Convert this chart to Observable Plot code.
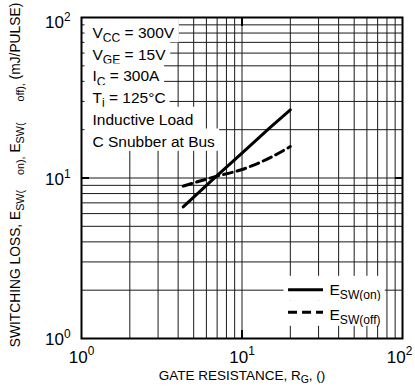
<!DOCTYPE html>
<html><head><meta charset="utf-8">
<script src="https://cdn.jsdelivr.net/npm/d3@7"></script>
<script src="https://cdn.jsdelivr.net/npm/@observablehq/plot@0.6"></script>
<style>
body{margin:0;background:#fff;}
svg text{white-space:pre;}
</style></head><body><div id="chart"></div>
<script>
// ---- data ----
const rg      = [4.3, 6.8, 10, 15, 20];          // gate resistance (ohm)
const eswOn   = [6.6, 10.1, 14.3, 20.7, 26.6];   // mJ/pulse
const eswOff  = [8.9, 10.2, 11.3, 13.4, 15.7];   // mJ/pulse

const gridValues = [2,3,4,5,6,7,8,9,10,20,30,40,50,60,70,80,90];
const tickValues = [1, 10, 100];
const tickLabels = ["10^{0}", "10^{1}", "10^{2}"];
const majorTick = [10];

const conditions = ["V_{CC} = 300V", "V_{GE} = 15V", "I_{C} = 300A", "T_{j} = 125°C", "Inductive Load", "C Snubber at Bus"];
const seriesKeys = ["on", "off"];
const seriesLabels = ["E_{SW(on)}", "E_{SW(off)}"];
const seriesDash = [null, "9,5"];
// legend swatch placement (data units)
const legendY = [2.01, 1.458];
const legendX1 = 19.5, legendX2 = 32.2;

const xTitle = "GATE RESISTANCE, R_{G}, ()";
const yTitle = "SWITCHING LOSS, E_{SW(     on),} E_{SW(       off),} (mJ/PULSE)";

const onData = rg.map((x, i) => ({x, y: eswOn[i]}));
const offData = rg.map((x, i) => ({x, y: eswOff[i]}));
const legend = seriesKeys.map((k, i) => ({k, label: seriesLabels[i], dash: seriesDash[i], y: legendY[i]}));
const fmt = d => tickLabels[tickValues.indexOf(d)];
const lowTicks = tickValues.slice(0, 2), topTick = tickValues.slice(2);

const marks = [
  Plot.ruleX(gridValues, {stroke: "#1a1a1a", strokeWidth: 1}),
  Plot.ruleY(gridValues, {stroke: "#1a1a1a", strokeWidth: 1}),
  ...conditions.map((t, i) => Plot.text([t], {frameAnchor: "top-left", textAnchor: "start", lineAnchor: "bottom", dx: 11, dy: 20.5 + i * 21.7, fontSize: 15.5, ariaDescription: "notes"})),
  ...legend.map((d, i) => Plot.text([d.label], {frameAnchor: "bottom-right", textAnchor: "start", lineAnchor: "bottom", dx: -73, dy: i === 0 ? -43.7 : -18.7, fontSize: 15.5, ariaDescription: "legend"})),
  ...legend.map(d => Plot.ruleY([d.y], {x1: legendX1, x2: legendX2, stroke: "black", strokeWidth: 3, strokeDasharray: d.dash})),
  Plot.line(onData, {x: "x", y: "y", stroke: "black", strokeWidth: 3}),
  Plot.line(offData, {x: "x", y: "y", stroke: "black", strokeWidth: 3, strokeDasharray: "9,5", curve: "monotone-x"}),
  Plot.frame({stroke: "black", strokeWidth: 2}),
  Plot.axisX(majorTick, {anchor: "bottom", tickSize: -8, strokeWidth: 2, fill: "none", label: null}),
  Plot.axisX(majorTick, {anchor: "top", tickSize: -8, strokeWidth: 2, fill: "none", label: null}),
  Plot.axisY(majorTick, {anchor: "left", tickSize: -8, strokeWidth: 2, fill: "none", label: null}),
  Plot.axisY(majorTick, {anchor: "right", tickSize: -8, strokeWidth: 2, fill: "none", label: null}),
  Plot.axisX(lowTicks, {anchor: "bottom", tickSize: 0, tickPadding: 12, fontSize: 17, tickFormat: fmt, label: null}),
  Plot.axisX(topTick, {anchor: "bottom", tickSize: 0, tickPadding: 12, fontSize: 17, tickFormat: fmt, label: null, dx: -3}),
  Plot.axisY(lowTicks, {anchor: "left", tickSize: 0, tickPadding: 11, fontSize: 17, tickFormat: fmt, label: null, dy: 1.5}),
  Plot.axisY(topTick, {anchor: "left", tickSize: 0, tickPadding: 11, fontSize: 17, tickFormat: fmt, label: null, dy: 5.5}),
  Plot.text([xTitle], {frameAnchor: "bottom", lineAnchor: "bottom", dy: 41, fontSize: 13.5}),
  Plot.text([yTitle], {frameAnchor: "left", rotate: -90, lineAnchor: "bottom", textAnchor: "middle", dx: -61.5, dy: -3, fontSize: 13.8})
];

const chart = Plot.plot({
  width: 415, height: 391,
  marginLeft: 81, marginRight: 13, marginTop: 17, marginBottom: 53,
  x: {type: "log", domain: [1, 100]},
  y: {type: "log", domain: [1, 100]},
  style: {fontFamily: "'Liberation Sans', Arial, Helvetica, sans-serif", background: "white", color: "black"},
  marks
});
document.getElementById("chart").append(chart);

const NS = "http://www.w3.org/2000/svg";
function rich(el) {
  const s = el.textContent;
  if (!/[_^]\{/.test(s)) return;
  const fs = parseFloat(getComputedStyle(el).fontSize) || 12;
  const parts = [];
  const re = /([_^])\{([^}]*)\}/g;
  let last = 0, m;
  while ((m = re.exec(s))) {
    if (m.index > last) parts.push({t: s.slice(last, m.index)});
    parts.push({t: m[2], k: m[1]});
    last = re.lastIndex;
  }
  if (last < s.length) parts.push({t: s.slice(last)});
  el.textContent = "";
  let cur = 0;
  for (const p of parts) {
    const ts = document.createElementNS(NS, "tspan");
    const target = p.k === "_" ? 0.28 * fs : p.k === "^" ? -0.42 * fs : 0;
    if (target !== cur) ts.setAttribute("dy", target - cur);
    cur = target;
    if (p.k === "_") ts.setAttribute("font-size", 0.78 * fs);
    if (p.k === "^") ts.setAttribute("font-size", 0.7 * fs);
    ts.textContent = p.t;
    el.appendChild(ts);
  }
}
chart.querySelectorAll("text").forEach(rich);

// white backgrounds behind the annotation block and the legend
function boxes(desc, padL, padR, top, h, firstExtra) {
  chart.querySelectorAll(`g[aria-description="${desc}"] text`).forEach((el, i) => {
    const bb = el.getBBox();
    const baseY = parseFloat(el.getAttribute("y") || 0);
    const r = document.createElementNS(NS, "rect");
    const extra = i === 0 ? firstExtra : 0;
    r.setAttribute("x", bb.x - padL);
    r.setAttribute("y", baseY + top - extra);
    r.setAttribute("width", bb.width + padL + padR);
    r.setAttribute("height", h + extra);
    r.setAttribute("fill", "white");
    r.setAttribute("stroke", "none");
    const tr = el.getAttribute("transform");
    if (tr) r.setAttribute("transform", tr);
    el.parentNode.insertBefore(r, el);
  });
}
boxes("notes", 8, 4, -18, 22.3, 3);
boxes("legend", 46, 4, -19, 25, 0);
</script></body></html>
